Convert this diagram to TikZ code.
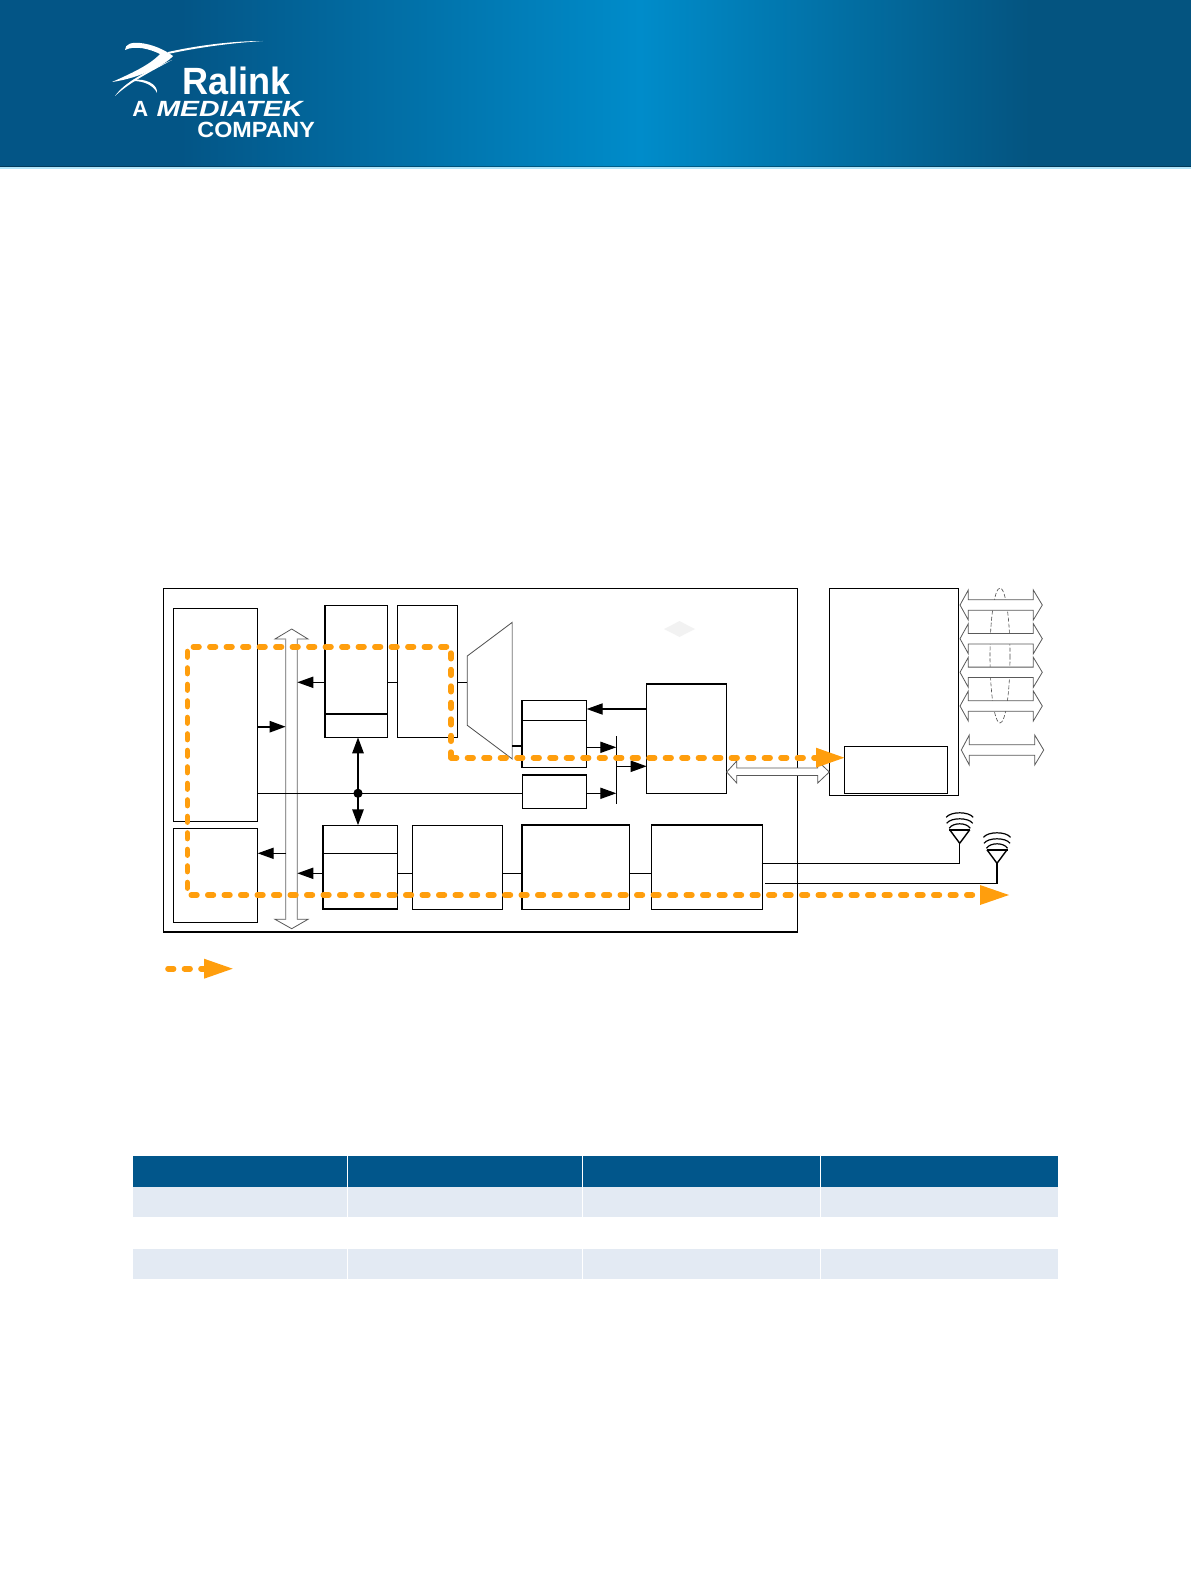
\documentclass[tikz,border=0pt]{standalone}
\usepackage{fontspec}
\setmainfont{Liberation Sans}
\usepackage{xcolor}
\usetikzlibrary{arrows.meta}
\definecolor{hdark}{RGB}{3,85,134}
\definecolor{hend}{RGB}{4,84,128}
\definecolor{hlight}{RGB}{0,140,202}
\definecolor{qpath}{RGB}{255,158,13}
\definecolor{qrow}{RGB}{227,234,243}
\definecolor{qhead}{RGB}{1,86,139}
\tikzset{
  tip/.tip={Triangle[length=8pt,width=5.6pt]},
  blk/.style={draw, line width=0.6pt, inner sep=0pt, outer sep=0pt},
  thin line/.style={line width=0.6pt},
  hollow/.style={draw=black!65, fill=white, line width=0.4pt, line join=miter},
  orange path/.style={draw=qpath, line width=2.8pt, line cap=round, dash pattern=on 2.8pt off 5.45pt},
}
% box from corner to corner, in page pixels
\newcommand{\blkbox}[5]{\node[blk, minimum width={(#4-#2)*0.5pt}, minimum height={(#5-#3)*0.5pt}] (#1) at ({(#2+#4)/2},{(#3+#5)/2}) {};}
\newcommand{\orangehead}[3]{\fill[qpath] (#1,#2-10) -- (#3,#2) -- (#1,#2+10) -- cycle;}
\begin{document}
\begin{tikzpicture}[x=0.5pt,y=-0.5pt]
\useasboundingbox (0,0) rectangle (1191,1584);
\fill[white] (0,0) rectangle (1191,1584);

% header
\fill[hdark] (0,0) rectangle (180,167);
\fill[left color=hdark, right color=hlight] (180,0) rectangle (640,167);
\fill[left color=hlight, right color=hend] (640,0) rectangle (1030,167);
\fill[hend] (1030,0) rectangle (1191,167);
\fill[black, opacity=0.3] (0,165.5) rectangle (1191,167);
\fill[cyan!30] (0,167) rectangle (1191,169);

% logo
\fill[white] (125,50) .. controls (125,44) and (132,42) .. (140,43) .. controls (152,44) and (165,50) .. (173,56) .. controls (165,65) and (140,78) .. (112,82) .. controls (130,74) and (150,65) .. (160,54) .. controls (150,49) and (135,45) .. (125,50) -- cycle;
\fill[white] (168,52) .. controls (195,46) and (230,41) .. (263,41) .. controls (230,43) and (195,48) .. (168,54) -- cycle;
\fill[white] (115,96) .. controls (125,82) and (145,72) .. (172,60) .. controls (150,72) and (130,82) .. (115,96) -- cycle;
\fill[white] (133,80) .. controls (145,78) and (158,84) .. (157,93) .. controls (154,86) and (145,81) .. (133,81) -- cycle;
\node[anchor=base west, inner sep=0pt, text=white, font=\fontsize{19}{19}\selectfont\bfseries, xscale=0.95, transform shape] (ralink) at (182,95) {Ralink};
\node[anchor=base west, inner sep=0pt, text=white, font=\fontsize{11}{11}\selectfont\bfseries] (atext) at (132,117) {A};
\node[anchor=base west, inner sep=0pt, text=white, font=\fontsize{11}{11}\selectfont\bfseries\itshape, xscale=1.29, transform shape] (mtk) at (156,117) {MEDIATEK};
\node[anchor=base west, inner sep=0pt, text=white, font=\fontsize{11}{11}\selectfont\bfseries, xscale=1.06, transform shape] (company) at (197,137) {COMPANY};

% y levels of the connectors
\coordinate (rowa) at (0,682.3);
\coordinate (rowb) at (0,726.7);
\coordinate (rowc) at (0,793.3);
\coordinate (rowd) at (0,853.3);
\coordinate (rowe) at (0,873.3);
\coordinate (rowf) at (0,709);
\coordinate (rowg) at (0,747.3);
\coordinate (rowh) at (0,766.3);
\coordinate (bushi) at (285.7,0);
\coordinate (busri) at (297.3,0);

% chip
\blkbox{chip}{163.3}{588.3}{797.7}{931.7}
\draw[line width=1pt] (chip.south west) -- (chip.south east);

% faint mark
\fill[black!5] (664,629) -- (672,625) -- (679.5,621) -- (687,625) -- (695,629) -- (687,633) -- (679.5,637) -- (672,633) -- cycle;

\blkbox{cpu}{173.3}{608.3}{257.7}{821.3}
\blkbox{cache}{173.3}{828.3}{257.7}{922.3}
\blkbox{mac}{324.7}{605.3}{387.7}{737.3}
\draw[line width=0.9pt] (mac.west |- 0,714) -- (mac.east |- 0,714);
\blkbox{dma}{397.3}{605.3}{457.3}{737.3}
\blkbox{reg}{521.7}{700.3}{586.7}{767.3}
\draw[thin line] (reg.west |- 0,720.3) -- (reg.east |- 0,720.3);
\blkbox{fifo}{522.3}{775}{586.7}{808.7}
\blkbox{gmac}{646.7}{684}{726.7}{793.3}
\blkbox{txb}{322.7}{825.3}{397.3}{909}
\draw[thin line] (txb.west |- rowd) -- (txb.east |- rowd);
\blkbox{pcm}{412.3}{825.3}{502.7}{909.3}
\blkbox{base}{521.7}{824.7}{629.7}{909.3}
\blkbox{radio}{651.3}{824.7}{762.7}{909.3}
\blkbox{eth}{829.3}{588.3}{958.7}{795.3}
\blkbox{phy}{844.3}{746.3}{947.7}{793.3}

% heavier edges
\foreach \a/\b in {mac.north west/mac.south west, gmac.north west/gmac.north east, base.north west/base.north east, base.north west/base.south west, radio.north west/radio.north east, reg.north west/reg.south west, fifo.north west/fifo.north east, txb.north west/txb.south west, txb.south west/txb.south east}
  \draw[line width=0.9pt] (\a) -- (\b);

% multiplexer
\draw[draw=black!70, line width=0.4pt, fill=white] (467.3,656) coordinate (muxw) -- (512.3,622.3) -- (512.3,759) -- (467.3,725.3) -- cycle;
\draw[black!35, line width=0.6pt] (512.3,622.3) -- (512.3,759);

% bus
\draw[hollow] (291.7,629) -- (308,639) -- (297.3,639) -- (297.3,919.3) -- (308,919.3) -- (291.7,928.7) -- (275,919.3) -- (285.7,919.3) -- (285.7,639) -- (275,639) -- cycle;
\draw[black!40, line width=0.6pt] (285.7,639) -- (285.7,919.3) (297.3,639) -- (297.3,919.3);

% connectors
\draw[-tip, line width=1pt] (cpu.east |- rowb) -- (bushi |- rowb);
\draw[thin line] (cpu.east |- rowc) -- (fifo.west |- rowc);
\draw[tip-, thin line] (busri |- rowa) -- (mac.west |- rowa);
\draw[thin line] (mac.east |- rowa) -- (dma.west |- rowa);
\draw[thin line] (dma.east |- rowa) -- (muxw |- rowa);
\draw[tip-, thin line] (cache.east |- rowd) -- (bushi |- rowd);
\draw[tip-, thin line] (busri |- rowe) -- (txb.west |- rowe);
\draw[thin line] (txb.east |- rowe) -- (pcm.west |- rowe);
\draw[thin line] (pcm.east |- rowe) -- (base.west |- rowe);
\draw[thin line] (base.east |- rowe) -- (radio.west |- rowe);
\fill (358,793.3) circle (2.3pt) coordinate (dot);
\draw[tip-tip, line width=1.1pt] (dot |- mac.south) -- (dot |- txb.north);
\draw[line width=1pt] (512.3,745.7) -- (reg.west |- 0,745.7);
\coordinate (bar) at (616.3,0);
\draw[thin line] (bar |- 0,736) -- (bar |- 0,804);
\draw[-tip, thin line] (reg.east |- rowg) -- (bar |- rowg);
\draw[-tip, thin line] (fifo.east |- rowc) -- (bar |- rowc);
\draw[-tip, thin line] (bar |- rowh) -- (gmac.west |- rowh);
\draw[tip-, thin line] (reg.east |- rowf) -- (gmac.west |- rowf);

% link between switch and phy
\draw[hollow] (726.7,772) -- (736.7,761) -- (736.7,768) -- (817.7,768) -- (817.7,761) -- (829.3,772) -- (817.7,783) -- (817.7,775.5) -- (736.7,775.5) -- (736.7,783) -- cycle;

% ports
\draw[black!70, line width=0.3pt, dash pattern=on 2pt off 1pt] (1000,655.5) ellipse [x radius=10, y radius=67.5];
\foreach \yc in {605,638.7,672.3,706}
  \draw[hollow] (960,\yc) -- (968.3,\yc-15) -- (968.3,\yc-5.2) -- (1033.3,\yc-5.2) -- (1033.3,\yc-15) -- (1042.3,\yc) -- (1033.3,\yc+15) -- (1033.3,\yc+5.2) -- (968.3,\yc+5.2) -- (968.3,\yc+15) -- cycle;
\draw[hollow] (961.3,750) -- (969.3,735) -- (969.3,744.8) -- (1034.7,744.8) -- (1034.7,735) -- (1043.7,750) -- (1034.7,765) -- (1034.7,755.2) -- (969.3,755.2) -- (969.3,765) -- cycle;

% antennas
\foreach \ax/\ay/\nm in {959.7/843.3/anta, 997/863.3/antb}{
  \coordinate (\nm) at (\ax,\ay);
  \draw[line width=0.7pt] (\ax,\ay) -- (\ax-10,\ay-13.5) (\ax,\ay) -- (\ax+10,\ay-13.5);
  \draw[line width=1pt] (\ax-10.5,\ay-13.5) -- (\ax+10.5,\ay-13.5);
  \draw[line width=0.6pt] (\ax-10.5,\ay-15) .. controls (\ax-7,\ay-21) and (\ax+7,\ay-21) .. (\ax+10.5,\ay-15);
  \draw[line width=0.6pt] (\ax-13,\ay-20) .. controls (\ax-9,\ay-26) and (\ax+9,\ay-26) .. (\ax+13,\ay-20);
  \draw[line width=0.6pt] (\ax-13.5,\ay-26) .. controls (\ax-9,\ay-32) and (\ax+9,\ay-32) .. (\ax+13.5,\ay-26);
}
\draw[thin line] (761.7,863.3) coordinate (outa) -| (anta);
\draw[thin line] (765.3,883.3) coordinate (outb) -| (antb);
\draw[line width=1pt] (antb) -- (antb |- outb);

% data path
\draw[orange path] (451,757.7) -- (451,646.7) -- (187.3,646.7) -- (187.3,895) -- (980,895);
\draw[orange path] (451,757.7) -- (816,757.7);
\orangehead{816}{757.7}{844.3}
\orangehead{980}{895}{1009}

% key
\draw[orange path] (168,968.7) -- (204,968.7);
\orangehead{204}{968.7}{232.7}

% table
\fill[qhead] (133,1155.7) rectangle (1058,1186.7);
\fill[qrow] (133,1186.7) rectangle (1058,1216.7);
\fill[qrow] (133,1249) rectangle (1058,1278.7);
\foreach \cx in {347.3,582.4,820.6}
  \draw[white, line width=0.4pt] (\cx,1155.7) -- (\cx,1278.7);
\end{tikzpicture}
\end{document}
